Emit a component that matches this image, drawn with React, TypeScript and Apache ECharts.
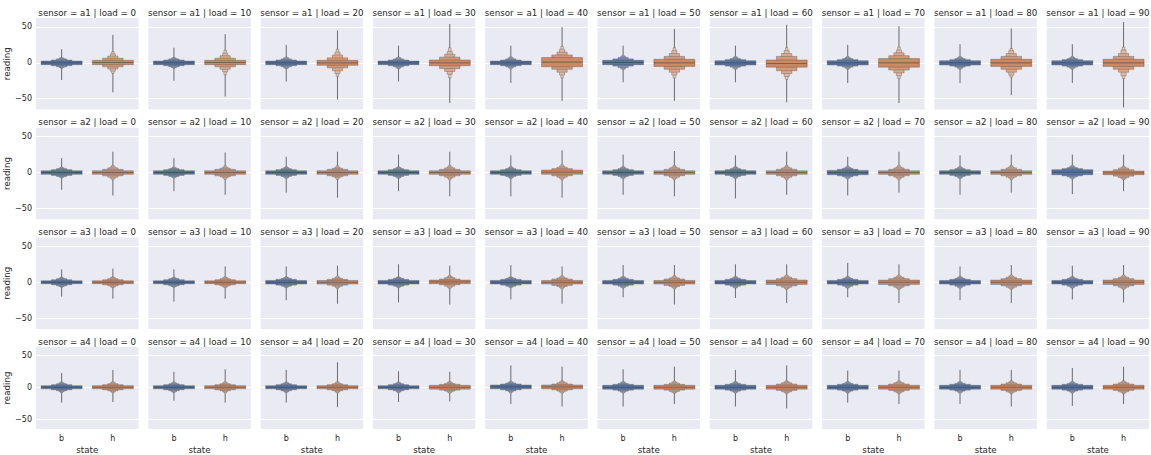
import React, { useEffect, useRef } from "react";
import * as echarts from "echarts";

const sensors = ["a1", "a2", "a3", "a4"];
const loads = [0, 10, 20, 30, 40, 50, 60, 70, 80, 90];
const states = ["b", "h"];
const yTicks = [-50, 0, 50];

// letter-value half-heights (innermost box first) per load, state b / h
const bLevA1 = [[2.5,4,5.5,6.5,7.5],[2.5,4,5.5,6.5,7.5],[2.5,4,5.5,7,8],[2.5,4,5.5,7,8],[2.5,4,5.5,7,8.5],[3,5,7,8.5,10],[3,4.5,6,7.5,9],[3,4.5,6,7.5,9],[3,4.5,6,7.5,9],[3,4.5,6,7.5,9]];
const hLevA1 = [[3,6,9,12,15],[3,6,9.5,13,17],[3.5,7,11,15,19],[4,8,12,16,21],[6.5,10,14,18,22],[5,9,13,17,21],[5,10,14,18,22],[6,10,14,18,22],[5,9,13,17,20],[5,9,13,18,22]];
const bOutA1 = [[-24,19],[-25,21],[-26,25],[-26,24],[-28,24],[-27,24],[-27,24],[-28,25],[-28,26],[-28,26]];
const hOutA1 = [[-41,39],[-47,40],[-51,45],[-56,54],[-53,50],[-53,47],[-55,53],[-56,51],[-45,48],[-62,57]];
const bMidA1 = [0,0,0,0,0,0.5,0,0,0,0];
const hMidA1 = [0.5,0.5,0,0,1,0,-1,0,0,0];

const bLevA2 = [[2.5,4,5.5,6.5,7.5],[2.5,4,5.5,6.5,7.5],[2.5,4,5.5,7,8],[2.5,4,5.5,7,8],[2.5,4,5.5,7,8.5],[2.5,4,5.5,7,8.5],[2.5,4,5.5,7,8.5],[3,4.5,6,7.5,9],[2.5,4,5.5,7,8.5],[3.5,5,6.5,8,9.5]];
const hLevA2 = [[2.5,4.5,6.5,8,10],[2.5,4.5,6,7.5,9.5],[2.5,4.5,6,7.5,9.5],[2.5,4.5,6.5,8,10],[3,5,7,8.5,10.5],[2.5,4.5,6.5,8,10],[2.5,4.5,6.5,8,10],[2.5,4.5,6.5,8,10],[2.5,4.5,6.5,8,10],[2.5,4.5,6.5,8,9.5]];
const bOutA2 = [[-24,20],[-26,20],[-28,22],[-26,25],[-33,24],[-31,25],[-36,24],[-32,22],[-31,24],[-30,25]];
const hOutA2 = [[-32,29],[-31,28],[-35,29],[-33,29],[-35,31],[-33,30],[-31,29],[-28,29],[-28,25],[-26,25]];
const bMidA2 = [0,0,0,0,0,0,0,0,0,0.5];
const hMidA2 = [0,0,0,0,0.5,0,0,0,0,-0.5];

const bLevA3 = [[2,3.5,5,6,7],[2,3.5,5,6,7],[2.5,4,5.5,6.5,7.5],[2.5,4,5.5,6.5,7.5],[2.5,4,5.5,6.5,7.5],[2.5,4,5.5,7,8],[2.5,4,5.5,7,8],[2.5,4,5.5,7,8],[2.5,4,5.5,7,8],[2.5,4,5.5,7,8]];
const hLevA3 = [[2,3.5,5,6.5,7.5],[2,3.5,5,6.5,7.5],[2.5,4,5.5,7,8.5],[2.5,4,6,7.5,9],[2.5,4.5,6,7.5,9],[2.5,4.5,6,7.5,9],[3,5,7,8.5,10],[3,5,7,8.5,10],[3,5,7,8.5,10],[3,5,7,8.5,10]];
const bOutA3 = [[-20,18],[-27,18],[-25,22],[-28,25],[-24,24],[-21,24],[-22,25],[-21,27],[-25,22],[-24,23]];
const hOutA3 = [[-23,19],[-23,22],[-30,23],[-31,23],[-30,22],[-31,24],[-29,25],[-29,25],[-29,24],[-28,24]];
const bMidA3 = [0,0,0,0,0,0,0,0,0,0];
const hMidA3 = [0,0,0,0.5,0,0,0,0,0,0];

const bLevA4 = [[2.5,4,5.5,7,8],[2.5,4,5.5,7,8],[2.5,4,5.5,7,8],[2.5,4,5.5,7,8],[3,4.5,6,7.5,9],[3,4.5,6,7.5,9],[3,4.5,6,7.5,9],[3,4.5,6,7.5,9],[3,4.5,6,7.5,9],[3,4.5,6,7.5,9]];
const hLevA4 = [[2.5,4,5.5,7,8.5],[2.5,4,5.5,7,8.5],[2.5,4,5.5,7,8.5],[3,4.5,6,7.5,9],[3,4.5,6.5,8,9.5],[3,4.5,6.5,8,9.5],[3,5,7,8.5,10],[3,5,7,8.5,10],[3,5,7,8.5,10],[3,5,7,8.5,10]];
const bOutA4 = [[-24,22],[-21,24],[-24,27],[-23,25],[-26,34],[-30,28],[-30,27],[-24,26],[-26,27],[-29,30]];
const hOutA4 = [[-23,27],[-24,28],[-31,39],[-22,24],[-30,32],[-26,32],[-33,34],[-26,26],[-30,27],[-26,32]];
const bMidA4 = [0,0,0,0,0.5,0,0,0,0,0];
const hMidA4 = [0,0,0,0,0.5,0,0,0,0,0];

const bLev = [bLevA1, bLevA2, bLevA3, bLevA4];
const hLev = [hLevA1, hLevA2, hLevA3, hLevA4];
const bOut = [bOutA1, bOutA2, bOutA3, bOutA4];
const hOut = [hOutA1, hOutA2, hOutA3, hOutA4];
const bMid = [bMidA1, bMidA2, bMidA3, bMidA4];
const hMid = [hMidA1, hMidA2, hMidA3, hMidA4];

const COLORS = ["#5875a3", "#cc8963"];
const GRAY = "#4b4b4b";
const TEXT = "#262626";
const FONT = "DejaVu Sans";

function hexToRgb(h: string) {
  const n = parseInt(h.slice(1), 16);
  return [(n >> 16) & 255, (n >> 8) & 255, n & 255];
}
function mix(hex: string, f: number) {
  const [r, g, b] = hexToRgb(hex);
  const m = (c: number) => Math.round(c + (255 - c) * f);
  return `rgb(${m(r)},${m(g)},${m(b)})`;
}

export default function App() {
  const ref = useRef<HTMLDivElement>(null);
  useEffect(() => {
    document.body.style.margin = "0";
    const chart = echarts.init(ref.current!, null, { renderer: "svg" });

    const L0 = 36, PW = 102.5, PX = 112.3;
    const T0 = 18, PH = 91.5, PY = 109.7;
    const YMIN = -65, YMAX = 62.5;

    const grids: any[] = [];
    const xAxes: any[] = [];
    const yAxes: any[] = [];
    const series: any[] = [];
    const graphics: any[] = [];

    const renderItem = (params: any, api: any) => {
      const cat = api.value(0) as number;
      const mid = api.value(1) as number;
      const lv = [api.value(2), api.value(3), api.value(4), api.value(5), api.value(6)] as number[];
      const lo = api.value(7) as number;
      const hi = api.value(8) as number;
      const color = COLORS[cat];
      const band = api.size([1, 0])[0];
      const full = band * 0.8;
      const cx = api.coord([cat, mid])[0];
      const children: any[] = [];
      const yHi = api.coord([cat, hi])[1];
      const yLo = api.coord([cat, lo])[1];
      children.push({
        type: "line",
        shape: { x1: cx, y1: yHi, x2: cx, y2: yLo },
        style: { stroke: GRAY, lineWidth: 1, opacity: 0.8 },
      });
      for (let i = lv.length - 1; i >= 0; i--) {
        const w = full / Math.pow(2, i);
        const y1 = api.coord([cat, mid + lv[i]])[1];
        const y2 = api.coord([cat, mid - lv[i]])[1];
        children.push({
          type: "rect",
          shape: { x: cx - w / 2, y: y1, width: w, height: y2 - y1 },
          style: { fill: mix(color, (0.85 * i) / 6), stroke: "rgba(75,75,75,0.7)", lineWidth: 0.5 },
        });
      }
      const ym = api.coord([cat, mid])[1];
      children.push({
        type: "line",
        shape: { x1: cx - full / 2, y1: ym, x2: cx + full / 2, y2: ym },
        style: { stroke: "rgba(38,38,38,0.45)", lineWidth: 1 },
      });
      return { type: "group", children };
    };

    sensors.forEach((s, r) => {
      loads.forEach((ld, c) => {
        const idx = r * loads.length + c;
        const left = L0 + c * PX;
        const top = T0 + r * PY;
        grids.push({
          left, top, width: PW, height: PH,
          show: true, backgroundColor: "#eaeaf2", borderWidth: 0,
        });
        const bottomRow = r === sensors.length - 1;
        xAxes.push({
          type: "category", gridIndex: idx, data: states,
          axisLine: { show: false }, axisTick: { show: false },
          splitLine: { show: false },
          axisLabel: { show: bottomRow, fontSize: 8, color: TEXT, margin: 5, fontFamily: FONT },
          name: bottomRow ? "state" : "",
          nameLocation: "middle", nameGap: 16,
          nameTextStyle: { fontSize: 8.7, color: TEXT, fontFamily: FONT },
        });
        yAxes.push({
          type: "value", gridIndex: idx, min: YMIN, max: YMAX,
          axisLine: { show: false },
          axisTick: { show: false, customValues: yTicks },
          axisLabel: {
            show: c === 0, customValues: yTicks, fontSize: 8, color: TEXT, margin: 4, fontFamily: FONT,
            formatter: (v: number) => String(v).replace("-", "\u2212"),
          },
          splitLine: { show: true, lineStyle: { color: "#ffffff", width: 1 } },
          name: c === 0 ? "reading" : "",
          nameLocation: "middle", nameGap: 18,
          nameTextStyle: { fontSize: 8.7, color: TEXT, fontFamily: FONT },
        });
        series.push({
          type: "custom",
          coordinateSystem: "cartesian2d",
          xAxisIndex: idx, yAxisIndex: idx,
          silent: true,
          encode: { x: 0, y: 1 },
          data: [
            [0, bMid[r][c], ...bLev[r][c], bOut[r][c][0], bOut[r][c][1]],
            [1, hMid[r][c], ...hLev[r][c], hOut[r][c][0], hOut[r][c][1]],
          ],
          renderItem,
        });
        graphics.push({
          type: "text",
          x: left + PW / 2,
          y: top - 1,
          style: {
            text: `sensor = ${s} | load = ${ld}`,
            align: "center", verticalAlign: "bottom",
            fontSize: 8.7, fill: TEXT, fontFamily: FONT,
          },
        });
      });
    });

    chart.setOption({
      animation: false,
      backgroundColor: "#ffffff",
      textStyle: { fontFamily: FONT },
      grid: grids,
      xAxis: xAxes,
      yAxis: yAxes,
      series,
      graphic: graphics,
    });
    return () => chart.dispose();
  }, []);
  return <div ref={ref} style={{ width: 1151, height: 455 }} />;
}
